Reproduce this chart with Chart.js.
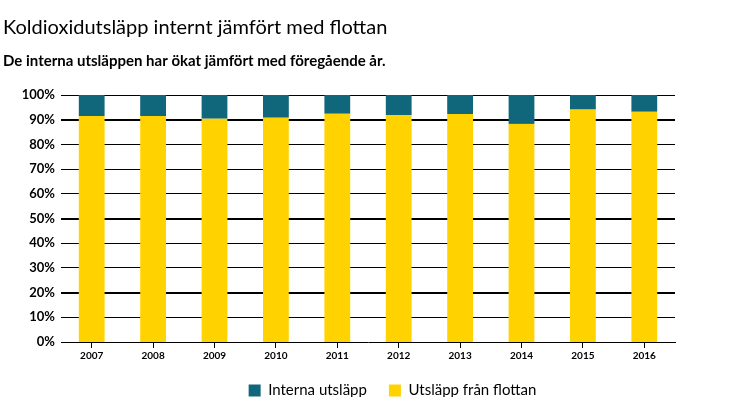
<!DOCTYPE html>
<html>
<head>
<meta charset="utf-8">
<script src="https://cdn.jsdelivr.net/npm/chart.js@4/dist/chart.umd.min.js"></script>
<style>
html,body{margin:0;padding:0;background:#fff;}
#wrap{width:731px;height:397px;}
</style>
</head>
<body>
<div id="wrap"><canvas id="grafica"></canvas></div>
<script>
// data
const years = ["2007","2008","2009","2010","2011","2012","2013","2014","2015","2016"]
const flottan = [91.5, 91.5, 90.4, 90.8, 92.4, 91.9, 92.3, 88.3, 94.1, 93.2]
const interna = [8.5, 8.5, 9.6, 9.2, 7.6, 8.1, 7.7, 11.7, 5.9, 6.8]
const yTicks = [0,10,20,30,40,50,60,70,80,90,100]

const teal = '#10667a'
const yellow = '#ffd200'
const fontName = 'Lato, "DejaVu Sans", sans-serif'

Chart.defaults.font.family = fontName
Chart.defaults.color = '#000'

// the legend in the original sits a bit to the right of the middle
const moverLeyenda = {
id:'moverLeyenda',
afterLayout(chart){
chart.legend.left = 54
chart.legend.right = 731
}
}

let chart = new Chart(document.getElementById("grafica"),{
type:'bar',
plugins:[moverLeyenda],
data:{
labels:years,
datasets:[
{
label:'Utsläpp från flottan',
data:flottan,
backgroundColor:yellow,
borderWidth:0,
categoryPercentage:1,
barPercentage:0.42
},
{
label:'Interna utsläpp',
data:interna,
backgroundColor:teal,
borderWidth:0,
categoryPercentage:1,
barPercentage:0.42
}
]
},
options:{
responsive:true,
maintainAspectRatio:false,
animation:false,
layout:{
padding:{left:3,right:56,top:0,bottom:-11}
},
plugins:{
title:{
display:true,
text:'Koldioxidutsläpp internt jämfört med flottan',
align:'start',
color:'#000',
font:{size:20,weight:'normal'},
padding:{top:16,bottom:4}
},
subtitle:{
display:true,
text:'De interna utsläppen har ökat jämfört med föregående år.',
align:'start',
color:'#000',
font:{size:15,weight:'bold'},
padding:{top:8,bottom:25}
},
legend:{
position:'bottom',
reverse:true,
labels:{
boxWidth:12,
boxHeight:12,
padding:22,
color:'#000',
font:{size:15}
}
},
tooltip:{enabled:false}
},
scales:{
x:{
stacked:true,
offset:true,
grid:{
display:true,
drawOnChartArea:false,
offset:false,
tickLength:6,
color:'#000'
},
border:{display:true,color:'#000',width:1},
ticks:{
color:'#000',
padding:2,
font:{size:10,weight:'bold'}
},
afterFit:function(scale){ scale.height = 19 }
},
y:{
stacked:true,
min:0,
max:100,
afterBuildTicks:function(scale){
scale.ticks = yTicks.map(v => ({value:v}))
},
grid:{
drawTicks:false,
color:'#000',
lineWidth:function(ctx){
let v = ctx.tick ? ctx.tick.value : 0
if(v===0) return 0
if(v===90 || v===50 || v===20) return 2
return 1
}
},
border:{display:false},
ticks:{
color:'#000',
padding:6,
font:{size:13,weight:'bold'},
callback:function(v){ return v + '%' }
},
afterFit:function(scale){ scale.width = 58 }
}
}
}
})
</script>
</body>
</html>
